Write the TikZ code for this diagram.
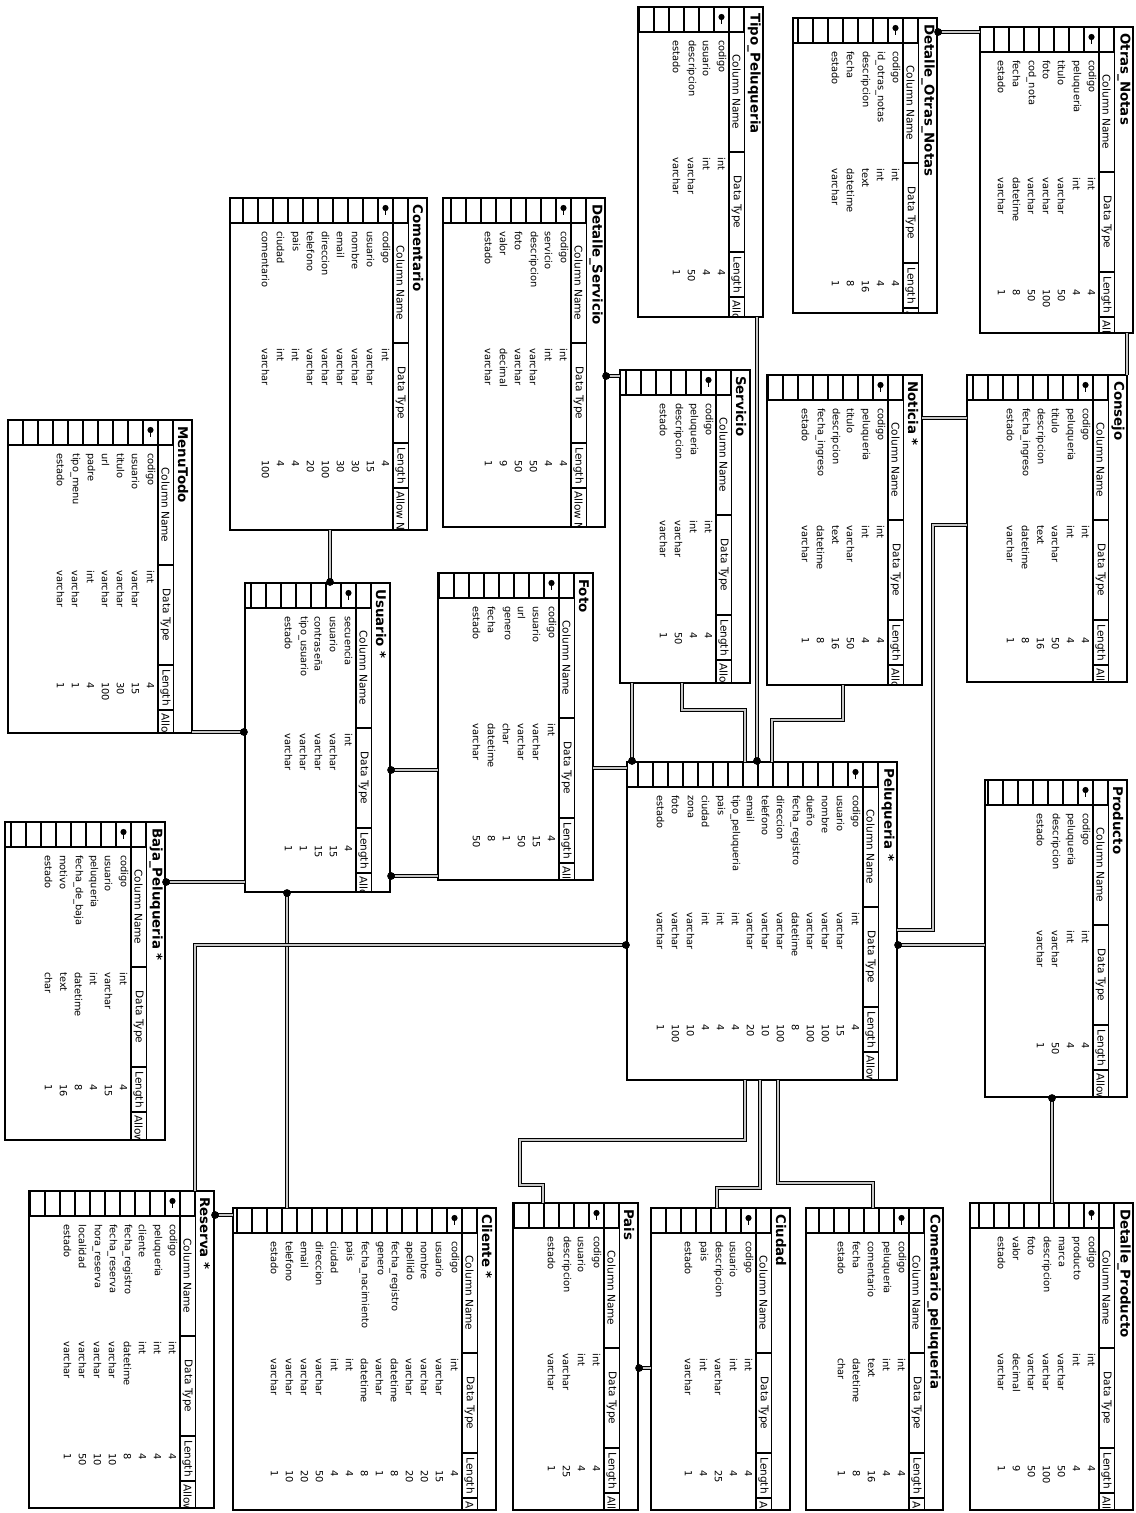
\documentclass[tikz,border=0pt]{standalone}
\usepackage{fontspec}
\setmainfont{DejaVu Sans}
\usetikzlibrary{positioning,fit,arrows.meta,calc}

\tikzset{
  tbl/.style={draw, line width=1.3pt, inner sep=0pt, outer sep=0pt},
  ttl/.style={font=\fontsize{9.5}{10}\selectfont\bfseries, rotate=-90, anchor=west, inner sep=0pt},
  hdr/.style={font=\fontsize{7.5}{8}\selectfont, rotate=-90, inner sep=0pt},
  cell/.style={font=\fontsize{7}{7}\selectfont, rotate=-90, anchor=west, inner sep=0pt},
  rel/.style={line width=0.7pt, double=gray!45, double distance=1.1pt},
  many/.style={{Circle[length=5.5pt, sep=-2pt]}-},
}

% \dbtable{name}{left}{top}{right}{bottom}{title}{rows: name/type/length}
\newcommand{\dbtable}[7]{%
  \node[tbl, fit={(#2,#3) (#4,#5)}] (#1) {};
  \begin{scope}
    \clip (#2,#3) rectangle (#4,#5);
    \draw[line width=1.1pt] (#2,#3+25) -- (#4-19,#3+25);
    \pgfmathtruncatemacro\ncell{(#4-19-#2)/15}
    \foreach \k in {0,...,\ncell}
      \draw[line width=1pt] (#4-19-\k*15,#3) -- ++(0,25);
    \draw[line width=0.9pt] (#4-34,#3+25) -- (#4-34,#5);
    \draw[line width=0.6pt] (#4-19,#3) -- (#4-19,#5);
    \foreach \s in {145,245,290}
      \draw[line width=0.9pt] (#4-34,#3+\s) -- (#4-19,#3+\s);
    \node[hdr] at (#4-26.5,#3+85) {Column Name};
    \node[hdr] at (#4-26.5,#3+195) {Data Type};
    \node[hdr] at (#4-26.5,#3+267.5) {Length};
    \node[hdr, anchor=west] at (#4-26.5,#3+293) {Allow Nulls};
    \fill (#4-41.5,#3+10) circle (2.2pt);
    \draw[line width=1.2pt] (#4-41.5,#3+10) -- (#4-41.5,#3+17);
    \node[ttl] at (#4-9,#3+6) {#6};
    \foreach \cn/\ct/\cl [count=\i] in {#7} {
      \node[cell] at (#4-26.5-15*\i,#3+33) {\cn};
      \node[cell] at (#4-26.5-15*\i,#3+150) {\ct};
      \node[cell] at (#4-26.5-15*\i,#3+262) {\cl};
    }
  \end{scope}
}

\begin{document}
\begin{tikzpicture}[x=0.025cm, y=-0.025cm]
  \useasboundingbox (0,0) rectangle (1136,1513);
  \fill[white] (0,0) rectangle (1136,1513);

  % top row
  \dbtable{tipo}{638}{7}{763}{317}{Tipo\_Peluqueria}{codigo/int/4, usuario/int/4, descripcion/varchar/50, estado/varchar/1}
  \dbtable{detotras}{793}{18}{937}{313}{Detalle\_Otras\_Notas}{codigo/int/4, id\_otras\_notas/int/4, descripcion/text/16, fecha/datetime/8, estado/varchar/1}
  \dbtable{otras}{980}{27}{1133}{333}{Otras\_Notas}{codigo/int/4, peluqueria/int/4, titulo/varchar/50, foto/varchar/100, cod\_nota/varchar/50, fecha/datetime/8, estado/varchar/1}
  \dbtable{coment}{230}{198}{427}{530}{Comentario}{codigo/int/4, usuario/varchar/15, nombre/varchar/30, email/varchar/30, direccion/varchar/100, telefono/varchar/20, pais/int/4, ciudad/int/4, comentario/varchar/100}
  \dbtable{detserv}{443}{198}{605}{527}{Detalle\_Servicio}{codigo/int/4, servicio/int/4, descripcion/varchar/50, foto/varchar/50, valor/decimal/9, estado/varchar/1}

  % middle
  \dbtable{servicio}{620}{370}{750}{683}{Servicio}{codigo/int/4, peluqueria/int/4, descripcion/varchar/50, estado/varchar/1}
  \dbtable{noticia}{767}{375}{922}{685}{Noticia *}{codigo/int/4, peluqueria/int/4, titulo/varchar/50, descripcion/text/16, fecha\_ingreso/datetime/8, estado/varchar/1}
  \dbtable{consejo}{967}{375}{1127}{682}{Consejo}{codigo/int/4, peluqueria/int/4, titulo/varchar/50, descripcion/text/16, fecha\_ingreso/datetime/8, estado/varchar/1}
  \dbtable{menu}{8}{420}{192}{733}{MenuTodo}{codigo/int/4, usuario/varchar/15, titulo/varchar/30, url/varchar/100, padre/int/4, tipo\_menu/varchar/1, estado/varchar/1}
  \dbtable{usuario}{245}{583}{390}{892}{Usuario *}{secuencia/int/4, usuario/varchar/15, contraseña/varchar/15, tipo\_usuario/varchar/1, estado/varchar/1}
  \dbtable{foto}{438}{573}{593}{880}{Foto}{codigo/int/4, usuario/varchar/15, url/varchar/50, genero/char/1, fecha/datetime/8, estado/varchar/50}
  \dbtable{pelu}{627}{762}{897}{1080}{Peluqueria *}{codigo/int/4, usuario/varchar/15, nombre/varchar/100, dueño/varchar/100, fecha\_registro/datetime/8, direccion/varchar/100, telefono/varchar/10, email/varchar/20, tipo\_peluqueria/int/4, pais/int/4, ciudad/int/4, zona/varchar/10, foto/varchar/100, estado/varchar/1}
  \dbtable{producto}{985}{780}{1127}{1097}{Producto}{codigo/int/4, peluqueria/int/4, descripcion/varchar/50, estado/varchar/1}
  \dbtable{baja}{5}{822}{165}{1140}{Baja\_Peluqueria *}{codigo/int/4, usuario/varchar/15, peluqueria/int/4, fecha\_de\_baja/datetime/8, motivo/text/16, estado/char/1}

  % bottom row
  \dbtable{reserva}{29}{1191}{214}{1508}{Reserva *}{codigo/int/4, peluqueria/int/4, cliente/int/4, fecha\_registro/datetime/8, fecha\_reserva/varchar/10, hora\_reserva/varchar/10, localidad/varchar/50, estado/varchar/1}
  \dbtable{cliente}{233}{1208}{496}{1510}{Cliente *}{codigo/int/4, usuario/varchar/15, nombre/varchar/20, apellido/varchar/20, fecha\_registro/datetime/8, genero/varchar/1, fecha\_nacimiento/datetime/8, pais/int/4, ciudad/int/4, direccion/varchar/50, email/varchar/20, telefono/varchar/10, estado/varchar/1}
  \dbtable{pais}{513}{1203}{638}{1510}{Pais}{codigo/int/4, usuario/int/4, descripcion/varchar/25, estado/varchar/1}
  \dbtable{ciudad}{651}{1208}{790}{1510}{Ciudad}{codigo/int/4, usuario/int/4, descripcion/varchar/25, pais/int/4, estado/varchar/1}
  \dbtable{comentpelu}{806}{1208}{943}{1510}{Comentario\_peluqueria}{codigo/int/4, peluqueria/int/4, comentario/text/16, fecha/datetime/8, estado/char/1}
  \dbtable{detprod}{970}{1203}{1133}{1510}{Detalle\_Producto}{codigo/int/4, producto/int/4, marca/varchar/50, descripcion/varchar/100, foto/varchar/50, valor/decimal/9, estado/varchar/1}

  % relations
  \draw[rel, many] (detotras.east |- 0,32) -- (otras.west |- 0,32);
  \draw[rel] (otras.south -| 1127,0) -- (consejo.north -| 1127,0);
  \draw[rel, many] (detserv.east |- 0,376) -- (servicio.west |- 0,376);
  \draw[rel, many] (usuario.north -| 330,0) -- (coment.south -| 330,0);
  \draw[rel, many] (usuario.west |- 0,732) -- (menu.east |- 0,732);
  \draw[rel, many] (usuario.east |- 0,770) -- (foto.west |- 0,770);
  \draw[rel, many] (usuario.east |- 0,876) -- (foto.west |- 0,876);
  \draw[rel] (foto.east |- 0,768) -- (pelu.west |- 0,768);
  \draw[rel, many] (usuario.south -| 287,0) -- (cliente.north -| 287,0);
  \draw[rel, many] (baja.east |- 0,882) -- (usuario.west |- 0,882);
  \draw[rel, many] (pelu.west |- 0,945) -| (reserva.north -| 195,0);
  \draw[rel, many] (reserva.east |- 0,1215) -- (cliente.west |- 0,1215);
  \draw[rel, many] (pais.east |- 0,1368) -- (ciudad.west |- 0,1368);
  \draw[rel] (pelu.south -| 745,0) |- (520,1140) |- (543,1185) -- (pais.north -| 543,0);
  \draw[rel] (pelu.south -| 760,0) |- (717,1188) -- (ciudad.north -| 717,0);
  \draw[rel] (pelu.south -| 778,0) |- (873,1183) -- (comentpelu.north -| 873,0);
  \draw[rel, many] (producto.south -| 1052,0) -- (detprod.north -| 1052,0);
  \draw[rel, many] (pelu.east |- 0,945) -- (producto.west |- 0,945);
  \draw[rel] (consejo.west |- 0,525) -| (933,930) -- (pelu.east |- 0,930);
  \draw[rel] (noticia.east |- 0,418) -- (consejo.west |- 0,418);
  \draw[rel, many] (pelu.north -| 757,0) -- (tipo.south -| 757,0);
  \draw[rel, many] (pelu.north -| 632,0) -- (servicio.south -| 632,0);
  \draw[rel] (servicio.south -| 682,0) |- (745,710) -- (pelu.north -| 745,0);
  \draw[rel] (noticia.south -| 843,0) |- (772,720) -- (pelu.north -| 772,0);
\end{tikzpicture}
\end{document}
